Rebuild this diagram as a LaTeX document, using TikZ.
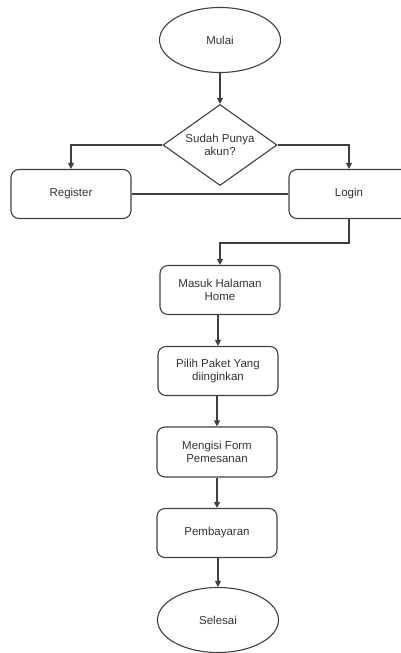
\documentclass[tikz,border=0pt]{standalone}
\usepackage{fontspec}
\setmainfont{Liberation Sans}
\usetikzlibrary{shapes.geometric,arrows.meta}
\definecolor{ln}{HTML}{404040}
\definecolor{tx}{HTML}{333333}
\tikzset{
  base/.style={draw=ln, line width=1.1pt, text=tx, font=\fontsize{11.5}{13.5}\selectfont, align=center, inner sep=0pt},
  terminal/.style={base, ellipse, minimum width=121pt, minimum height=65pt},
  decision/.style={base, diamond, minimum width=114pt, minimum height=81pt, aspect=1.4},
  process/.style={base, rectangle, rounded corners=8pt, minimum width=120pt, minimum height=49pt},
  arr/.style={draw=ln, line width=1.1pt, -{Triangle[width=6pt,length=6pt]}},
  con/.style={draw=ln, line width=1.1pt}
}
\begin{document}
\begin{tikzpicture}[x=1pt,y=-1pt]
\useasboundingbox (0,0) rectangle (401,653);
\clip (0,0) rectangle (401,653);
\node[terminal] (mulai) at (220,40) {Mulai};
\node[decision] (cek) at (220,145) {Sudah Punya\\akun?};
\node[process] (register) at (71,194) {Register};
\node[process] (login) at (349,194) {Login};
\node[process] (masuk) at (220,290) {Masuk Halaman\\Home};
\node[process] (pilih) at (218,371) {Pilih Paket Yang\\diinginkan};
\node[process, minimum height=50pt] (mengisi) at (217,452) {Mengisi Form\\Pemesanan};
\node[process] (bayar) at (217,533) {Pembayaran};
\node[terminal] (selesai) at (218,620) {Selesai};
\coordinate (j) at (349,243);
\draw[arr] (mulai.south) -- (cek.north);
\draw[arr] (cek.west) -| (register.north);
\draw[arr] (cek.east) -| (login.north);
\draw[con] (register.east) -- (login.west);
\draw[arr] (login.south) -- (j) -| (masuk.north);
\draw[arr] (masuk.south -| pilih.north) -- (pilih.north);
\draw[arr] (pilih.south -| mengisi.north) -- (mengisi.north);
\draw[arr] (mengisi.south) -- (bayar.north);
\draw[arr] (bayar.south -| selesai.north) -- (selesai.north);
\end{tikzpicture}
\end{document}
